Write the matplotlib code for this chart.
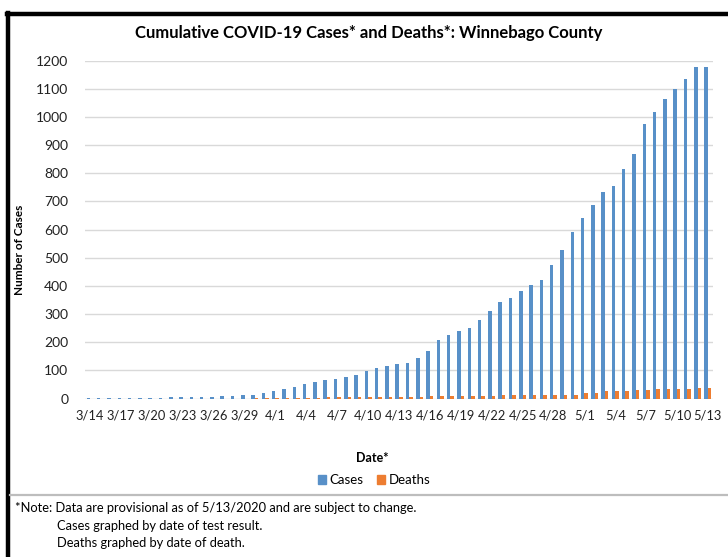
import matplotlib
matplotlib.use("Agg")
import matplotlib.pyplot as plt
from matplotlib.lines import Line2D
from matplotlib.patches import Patch
import numpy as np
import datetime as dt

# ---- data ----
start = dt.date(2020, 3, 14)
dates = [start + dt.timedelta(days=i) for i in range(61)]
date_labels = [f"{d.month}/{d.day}" for d in dates]

cases = [1, 1, 2, 2, 2, 2, 3, 3, 5, 6, 6, 7, 7, 9, 10, 12,
         14, 20, 26, 34, 41, 51, 59, 65, 68, 76, 84, 97, 109, 114,
         123, 127, 143, 169, 207, 226, 241, 251, 279, 312, 342, 356,
         383, 403, 420, 473, 526, 590, 642, 686, 734, 754, 814, 867,
         974, 1018, 1065, 1101, 1136, 1178, 1178]
deaths = [0, 0, 0, 0, 0, 0, 0, 0, 0, 0, 0, 0, 0, 0, 0, 0,
          1, 1, 2, 2, 3, 3, 3, 4, 4, 4, 5, 5, 5, 6,
          6, 6, 6, 9, 9, 9, 9, 9, 10, 10, 12, 12,
          12, 12, 12, 13, 13, 13, 20, 20, 25, 25, 25, 30,
          30, 32, 32, 32, 32, 36, 36]

title = "Cumulative COVID-19 Cases* and Deaths*: Winnebago County"
note_lines = ["*Note: Data are provisional as of 5/13/2020 and are subject to change.",
              "Cases graphed by date of test result.",
              "Deaths graphed by date of death."]

BLUE = "#5890c8"
ORANGE = "#ed7d31"
FONT = ["Lato", "DejaVu Sans"]
plt.rcParams['font.family'] = FONT

W, H = 728, 557
fig = plt.figure(figsize=(W / 100, H / 100), dpi=100)

def fx(px):
    return px / W

def fy(py):
    return 1 - py / H

ax = fig.add_axes([fx(85), fy(398.5), fx(713) - fx(85), fy(60.7) - fy(398.5)])
x = np.arange(len(cases))
bw = 0.34
ax.bar(x - bw / 2, cases, width=bw, color=BLUE, label="Cases")
ax.bar(x + bw / 2, deaths, width=bw, color=ORANGE, label="Deaths")
ax.set_xlim(-0.5, len(cases) - 0.5)
ax.set_ylim(0, 1200)
ax.set_yticks(range(0, 1201, 100))
ax.set_yticklabels([str(v) for v in range(0, 1201, 100)], fontsize=10, color="#222222")
ax.set_xticks(x[::3])
ax.set_xticklabels(date_labels[::3], fontsize=9.3, color="#222222")
ax.tick_params(axis='both', length=0)
ax.tick_params(axis='y', pad=12)
ax.tick_params(axis='x', pad=8)
ax.grid(axis='y', color="#d9d9d9", linewidth=1)
ax.set_axisbelow(True)
for s in ax.spines.values():
    s.set_visible(False)

fig.text(fx(369), fy(33), title, ha='center', va='center', fontsize=12, fontweight='bold')
fig.text(fx(20), fy(250), "Number of Cases", rotation=90, ha='center', va='center',
         fontsize=8.5, fontweight='bold')
fig.text(fx(372), fy(458), "Date*", ha='center', va='center', fontsize=9, fontweight='bold')

handles = [Patch(color=BLUE, label="Cases"), Patch(color=ORANGE, label="Deaths")]
fig.legend(handles=handles, loc='center', bbox_to_anchor=(fx(374), fy(480)), ncol=2,
           frameon=False, fontsize=9.5, handlelength=0.6, handleheight=0.6,
           handletextpad=0.3, columnspacing=1.0)

# frame decorations
fig.add_artist(Line2D([fx(8), fx(8)], [fy(12.5), 0], color='black', linewidth=3.2))
fig.add_artist(Line2D([fx(6.5), 1], [fy(14), fy(14)], color='black', linewidth=3.2))
fig.add_artist(Line2D([fx(10), 1], [fy(495), fy(495)], color='#bdbdbd', linewidth=1.6))

fig.text(fx(15), fy(508), note_lines[0], ha='left', va='center', fontsize=9.3)
fig.text(fx(57), fy(526), note_lines[1], ha='left', va='center', fontsize=9.3)
fig.text(fx(57), fy(543), note_lines[2], ha='left', va='center', fontsize=9.3)

fig.savefig("out.png", dpi=100)
